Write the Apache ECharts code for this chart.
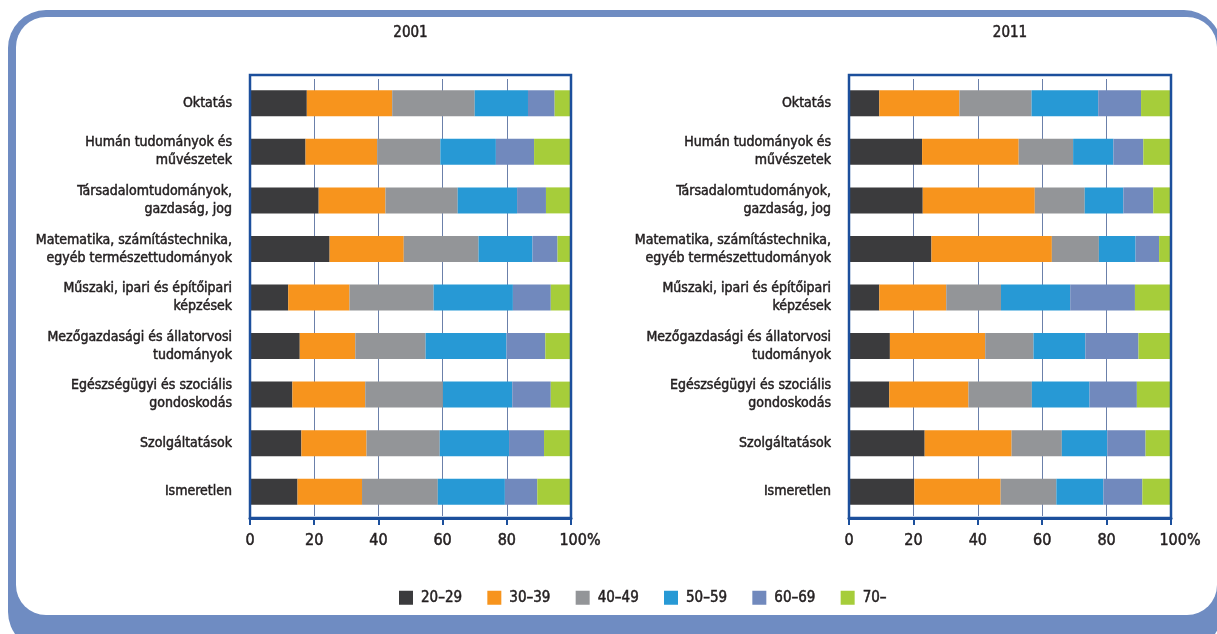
<!DOCTYPE html>
<html>
<head>
<meta charset="utf-8">
<script src="https://cdn.jsdelivr.net/npm/echarts@6/dist/echarts.min.js"></script>
<style>
  html, body { margin: 0; padding: 0; background: #fff; }
  #chart { width: 1217px; height: 634px; }
</style>
</head>
<body>
<div id="chart"></div>
<script>
const categories = [
  "Oktatás",
  "Humán tudományok és\nművészetek",
  "Társadalomtudományok,\ngazdaság, jog",
  "Matematika, számítástechnika,\negyéb természettudományok",
  "Műszaki, ipari és építőipari\nképzések",
  "Mezőgazdasági és állatorvosi\ntudományok",
  "Egészségügyi és szociális\ngondoskodás",
  "Szolgáltatások",
  "Ismeretlen"
];
const ageGroups = ["20–29", "30–39", "40–49", "50–59", "60–69", "70–"];
const years = ["2001", "2011"];

// 2001, share (%) of each age group per field
const age20_2001 = [17.7, 17.3, 21.4, 24.8, 11.9, 15.5, 13.2, 16.0, 14.8];
const age30_2001 = [26.6, 22.3, 20.8, 23.1, 19.1, 17.3, 22.7, 20.3, 20.1];
const age40_2001 = [25.7, 19.7, 22.5, 23.3, 26.2, 21.9, 24.2, 22.8, 23.6];
const age50_2001 = [16.6, 17.3, 18.5, 16.8, 24.7, 25.2, 21.6, 21.6, 20.9];
const age60_2001 = [8.3, 11.9, 9.0, 7.8, 11.8, 12.1, 12.0, 10.9, 10.1];
const age70_2001 = [5.1, 11.5, 7.8, 4.2, 6.3, 8.0, 6.3, 8.4, 10.5];

// 2011
const age20_2011 = [9.4, 22.7, 22.9, 25.6, 9.4, 12.7, 12.5, 23.5, 20.3];
const age30_2011 = [24.9, 30.0, 34.8, 37.4, 20.8, 29.6, 24.6, 27.0, 26.8];
const age40_2011 = [22.4, 16.9, 15.5, 14.6, 17.0, 15.0, 19.7, 15.6, 17.3];
const age50_2011 = [20.7, 12.5, 12.0, 11.4, 21.5, 16.1, 17.9, 14.1, 14.6];
const age60_2011 = [13.3, 9.3, 9.3, 7.3, 20.1, 16.5, 14.7, 11.9, 12.1];
const age70_2011 = [9.3, 8.6, 5.5, 3.7, 11.2, 10.1, 10.6, 7.9, 8.9];

const data2001 = [age20_2001, age30_2001, age40_2001, age50_2001, age60_2001, age70_2001];
const data2011 = [age20_2011, age30_2011, age40_2011, age50_2011, age60_2011, age70_2011];

const colors = ["#3b3b3d", "#f7941d", "#939598", "#2799d5", "#7189bd", "#a6cd3a"];
const font = "'Liberation Sans Narrow', 'DejaVu Sans Condensed', 'Roboto', sans-serif";
const ink = "#231f20";
const navy = "#1c4f9c";
// a thin outline in the text colour makes the narrow font look a bit heavier
const heavy = { textBorderColor: ink, textBorderWidth: 0.5 };

const panels = [
  { left: 250, width: 321, data: data2001 },
  { left: 849, width: 322, data: data2011 }
];
const gridTop = 79, gridHeight = 437;
const boxTop = 75, boxBottom = 518;

const chart = echarts.init(document.getElementById("chart"));

const grids = panels.map(p => ({ left: p.left, width: p.width, top: gridTop, height: gridHeight }));

const xAxes = panels.map((p, i) => ({
  type: "value", gridIndex: i, min: 0, max: 100, interval: 20, offset: 2,
  axisLine: { show: true, lineStyle: { color: navy, width: 3 } },
  axisTick: { show: true, length: 7, lineStyle: { color: navy, width: 2 } },
  splitLine: { show: true, lineStyle: { color: "#6b80aa", width: 1 } },
  axisLabel: Object.assign({
    margin: 15, fontFamily: font, fontSize: 16, color: ink,
    formatter: v => (v === 100 ? "{h|100%}" : String(v)),
    rich: { h: Object.assign({ fontFamily: font, fontSize: 16, color: ink, padding: [0, 0, 0, 18] }, heavy) }
  }, heavy)
}));

const yAxes = panels.map((p, i) => ({
  type: "category", gridIndex: i, data: categories, inverse: true,
  axisLine: { show: false }, axisTick: { show: false },
  axisLabel: Object.assign({ margin: 18, fontFamily: font, fontSize: 14, lineHeight: 18, color: ink, align: "right" }, heavy)
}));

const series = [];
panels.forEach((p, gi) => {
  ageGroups.forEach((name, k) => {
    series.push({
      name: name, type: "bar", stack: "y" + gi,
      xAxisIndex: gi, yAxisIndex: gi,
      barWidth: 26,
      itemStyle: { color: colors[k] },
      data: p.data[k]
    });
  });
});

const graphics = [
  // blue rounded frame
  { type: "rect", z: -10, shape: { x: 8, y: 10, width: 1214, height: 640, r: 38 }, style: { fill: "#6f8cc2" } },
  { type: "rect", z: -9, shape: { x: 16, y: 17, width: 1201, height: 598, r: 30 }, style: { fill: "#ffffff" } }
];
panels.forEach((p, i) => {
  graphics.push({
    type: "rect", z: 100,
    shape: { x: p.left, y: boxTop, width: p.width, height: boxBottom - boxTop },
    style: { fill: null, stroke: navy, lineWidth: 2.5 }
  });
  graphics.push({
    type: "text", z: 100, x: p.left + p.width / 2, y: 33,
    style: Object.assign({ text: years[i], fontFamily: font, fontSize: 15, fill: ink, align: "center", verticalAlign: "middle", stroke: ink, lineWidth: 0.5 })
  });
});

chart.setOption({
  animation: false,
  backgroundColor: "#ffffff",
  color: colors,
  grid: grids,
  xAxis: xAxes,
  yAxis: yAxes,
  series: series,
  legend: {
    data: ageGroups, left: 394, top: 585,
    itemWidth: 14, itemHeight: 14, itemGap: 25,
    icon: "rect",
    textStyle: Object.assign({ fontFamily: font, fontSize: 15, color: ink, padding: [0, 0, 0, 3] }, heavy)
  },
  graphic: graphics
});
</script>
</body>
</html>
